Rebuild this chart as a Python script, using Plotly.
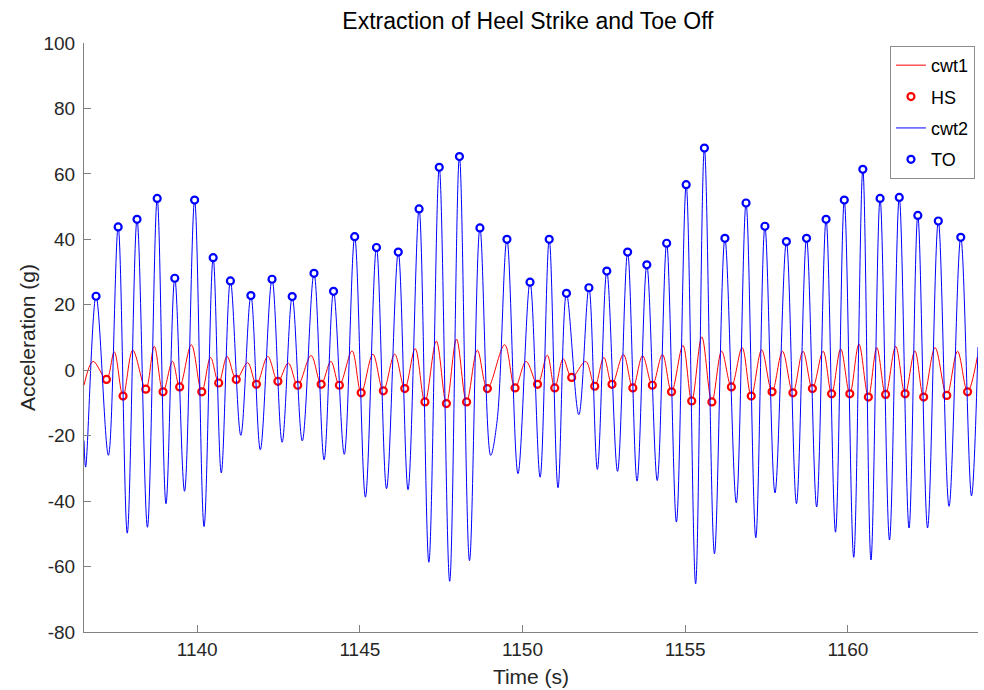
import plotly.graph_objects as go

# cwt2 (blue) signal vertices
cwt2_t = [1136.52, 1136.57, 1136.89, 1137.27, 1137.57, 1137.85, 1138.15, 1138.47, 1138.77, 1139.04,
          1139.31, 1139.61, 1139.92, 1140.21, 1140.49, 1140.74, 1141.02, 1141.34, 1141.65, 1141.94,
          1142.30, 1142.61, 1142.92, 1143.23, 1143.59, 1143.90, 1144.19, 1144.52, 1144.84, 1145.17,
          1145.51, 1145.82, 1146.18, 1146.48, 1146.82, 1147.12, 1147.44, 1147.76, 1148.06, 1148.37,
          1148.69, 1149.02, 1149.22, 1149.52, 1149.86, 1150.23, 1150.54, 1150.82, 1151.09, 1151.35,
          1151.73, 1152.04, 1152.30, 1152.59, 1152.92, 1153.23, 1153.52, 1153.82, 1154.14, 1154.43,
          1154.73, 1155.03, 1155.32, 1155.59, 1155.90, 1156.22, 1156.57, 1156.87, 1157.17, 1157.45,
          1157.76, 1158.11, 1158.42, 1158.73, 1159.04, 1159.33, 1159.62, 1159.89, 1160.18, 1160.46,
          1160.71, 1160.99, 1161.28, 1161.58, 1161.88, 1162.15, 1162.45, 1162.78, 1163.11, 1163.47,
          1163.80, 1164.00]
cwt2_v = [-21.5, -29.6, 22.6, -26.0, 43.8, -49.8, 46.1, -48.0, 52.5, -40.8,
          28.1, -37.0, 52.0, -47.8, 34.4, -31.4, 27.3, -19.9, 22.8, -24.3,
          27.8, -22.0, 22.5, -21.6, 29.6, -27.4, 24.1, -25.7, 40.8, -38.8,
          37.5, -36.2, 36.1, -36.5, 49.3, -58.7, 62.0, -64.5, 65.3, -58.2,
          43.5, -26.0, -15.3, 40.0, -31.6, 26.9, -32.7, 40.0, -35.9, 23.5,
          -13.6, 25.2, -30.3, 30.3, -30.9, 36.1, -33.9, 32.2, -33.7, 38.8,
          -46.4, 56.7, -65.3, 67.9, -56.1, 40.3, -40.5, 51.1, -51.2, 44.0,
          -37.5, 39.3, -40.8, 40.3, -41.8, 46.1, -49.5, 52.0, -57.2, 61.4,
          -58.0, 52.5, -51.9, 52.8, -48.2, 47.3, -48.2, 45.6, -41.6, 40.6,
          -38.4, 7.1]

# TO (toe off) points
to_t = [1136.89, 1137.57, 1138.15, 1138.77, 1139.31, 1139.92, 1140.49, 1141.02, 1141.65, 1142.30,
        1142.92, 1143.59, 1144.19, 1144.84, 1145.51, 1146.18, 1146.82, 1147.44, 1148.06, 1148.69,
        1149.52, 1150.23, 1150.82, 1151.35, 1152.04, 1152.59, 1153.23, 1153.82, 1154.43, 1155.03,
        1155.59, 1156.22, 1156.87, 1157.45, 1158.11, 1158.73, 1159.33, 1159.89, 1160.46, 1160.99,
        1161.58, 1162.15, 1162.78, 1163.47]
to_v = [22.6, 43.8, 46.1, 52.5, 28.1, 52.0, 34.4, 27.3, 22.8, 27.8,
        22.5, 29.6, 24.1, 40.8, 37.5, 36.1, 49.3, 62.0, 65.3, 43.5,
        40.0, 26.9, 40.0, 23.5, 25.2, 30.3, 36.1, 32.2, 38.8, 56.7,
        67.9, 40.3, 51.1, 44.0, 39.3, 40.3, 46.1, 52.0, 61.4, 52.5,
        52.8, 47.3, 45.6, 40.6]

# cwt1 (red) signal vertices
cwt1_t = [1136.52, 1136.80, 1137.21, 1137.45, 1137.72, 1138.02, 1138.42, 1138.68, 1138.95, 1139.24,
          1139.46, 1139.82, 1140.14, 1140.41, 1140.66, 1140.92, 1141.20, 1141.55, 1141.82, 1142.17,
          1142.48, 1142.80, 1143.09, 1143.50, 1143.81, 1144.11, 1144.37, 1144.76, 1145.04, 1145.40,
          1145.72, 1146.07, 1146.38, 1146.70, 1147.00, 1147.35, 1147.66, 1147.97, 1148.28, 1148.61,
          1148.92, 1149.45, 1149.77, 1150.11, 1150.46, 1150.76, 1150.99, 1151.25, 1151.51, 1151.94,
          1152.22, 1152.50, 1152.75, 1153.10, 1153.39, 1153.69, 1153.99, 1154.30, 1154.58, 1154.93,
          1155.20, 1155.51, 1155.82, 1156.12, 1156.42, 1156.75, 1157.03, 1157.35, 1157.67, 1157.99,
          1158.31, 1158.62, 1158.91, 1159.24, 1159.50, 1159.78, 1160.06, 1160.34, 1160.63, 1160.89,
          1161.16, 1161.47, 1161.76, 1162.06, 1162.33, 1162.68, 1163.04, 1163.37, 1163.68, 1163.98]
cwt1_v = [-4.6, 2.7, -2.8, 5.6, -7.9, 6.1, -5.8, 7.3, -6.6, 2.7,
          -5.1, 7.8, -6.6, 3.9, -3.9, 4.2, -2.8, 2.3, -4.3, 4.2,
          -3.4, 2.2, -4.6, 4.5, -4.3, 2.7, -4.6, 5.9, -6.9, 4.9,
          -6.3, 4.9, -5.6, 6.6, -9.7, 8.9, -10.2, 9.5, -9.7, 6.1,
          -5.6, 7.8, -5.4, 2.7, -4.3, 4.6, -5.4, 3.5, -2.2, 2.7,
          -4.9, 3.9, -4.3, 4.8, -5.4, 4.4, -4.6, 4.8, -6.6, 7.6,
          -9.4, 10.2, -9.7, 5.8, -5.1, 6.9, -7.9, 6.2, -6.6, 5.8,
          -6.9, 5.8, -5.6, 5.8, -7.2, 6.5, -7.2, 8.0, -8.2, 6.9,
          -7.4, 7.3, -7.2, 5.9, -8.2, 6.9, -7.7, 5.8, -6.6, 4.1]

# HS (heel strike) points
hs_t = [1137.21, 1137.72, 1138.42, 1138.95, 1139.46, 1140.14, 1140.66, 1141.20, 1141.82, 1142.48,
        1143.09, 1143.81, 1144.37, 1145.04, 1145.72, 1146.38, 1147.00, 1147.66, 1148.28, 1148.92,
        1149.77, 1150.46, 1150.99, 1151.51, 1152.22, 1152.75, 1153.39, 1153.99, 1154.58, 1155.20,
        1155.82, 1156.42, 1157.03, 1157.67, 1158.31, 1158.91, 1159.50, 1160.06, 1160.63, 1161.16,
        1161.76, 1162.33, 1163.04, 1163.68]
hs_v = [-2.8, -7.9, -5.8, -6.6, -5.1, -6.6, -3.9, -2.8, -4.3, -3.4,
        -4.6, -4.3, -4.6, -6.9, -6.3, -5.6, -9.7, -10.2, -9.7, -5.6,
        -5.4, -4.3, -5.4, -2.2, -4.9, -4.3, -5.4, -4.6, -6.6, -9.4,
        -9.7, -5.1, -7.9, -6.6, -6.9, -5.6, -7.2, -7.2, -8.2, -7.4,
        -7.2, -8.2, -7.7, -6.6]

x_ticks = [1140, 1145, 1150, 1155, 1160]
y_ticks = [-80, -60, -40, -20, 0, 20, 40, 60, 80, 100]
y_tick_text = ["-80", "-60", "-40", "-20", "0", "20", "40", "60", "80", "100"]

FONT = "Liberation Sans, Arial, Helvetica, sans-serif"
AXC = "#808080"

fig = go.Figure()
fig.add_trace(go.Scatter(x=cwt1_t, y=cwt1_v, mode="lines", name="cwt1", legendgroup="a",
                         line=dict(color="#ff0000", width=1, shape="spline", smoothing=1.0)))
fig.add_trace(go.Scatter(x=hs_t, y=hs_v, mode="markers", name="HS", legendgroup="b",
                         marker=dict(symbol="circle", size=7, color="white",
                                     line=dict(color="#ff0000", width=2.2))))
fig.add_trace(go.Scatter(x=cwt2_t, y=cwt2_v, mode="lines", name="cwt2", legendgroup="c",
                         line=dict(color="#0000ff", width=1, shape="spline", smoothing=1.0)))
fig.add_trace(go.Scatter(x=to_t, y=to_v, mode="markers", name="TO", legendgroup="d",
                         marker=dict(symbol="circle", size=7, color="white",
                                     line=dict(color="#0000ff", width=2.2))))

fig.update_layout(
    width=984, height=690,
    margin=dict(l=84, r=6, t=43, b=58),
    paper_bgcolor="white", plot_bgcolor="white",
    font=dict(family=FONT, color="#1a1a1a", size=17),
    title=dict(text="Extraction of Heel Strike and Toe Off", x=0.5365, xanchor="center",
               y=0.97, yanchor="middle", font=dict(size=23, color="#000000")),
    showlegend=True,
    legend=dict(x=0.9966, xanchor="right", y=0.995, yanchor="top",
                bordercolor="#8c8c8c", borderwidth=1, bgcolor="white",
                font=dict(size=18, color="#000000"), tracegroupgap=5, itemwidth=30),
    xaxis=dict(range=[1136.52, 1164.0], tickvals=x_ticks, ticks="inside", ticklen=7,
               tickcolor=AXC, showline=True, linecolor=AXC, linewidth=1, mirror=False,
               showgrid=False, zeroline=False, tickfont=dict(size=19, color="#262626"),
               title=dict(text="Time (s)", font=dict(size=21, color="#262626"), standoff=10)),
    yaxis=dict(range=[-80, 100], tickvals=y_ticks, ticktext=y_tick_text, ticks="inside", ticklen=7,
               tickcolor=AXC, showline=True, linecolor=AXC, linewidth=1, mirror=False,
               showgrid=False, zeroline=False, tickfont=dict(size=19, color="#262626"),
               ticklabelstandoff=4,
               title=dict(text="Acceleration (g)", font=dict(size=21, color="#262626"), standoff=2)),
)

fig.write_html("out.html")
